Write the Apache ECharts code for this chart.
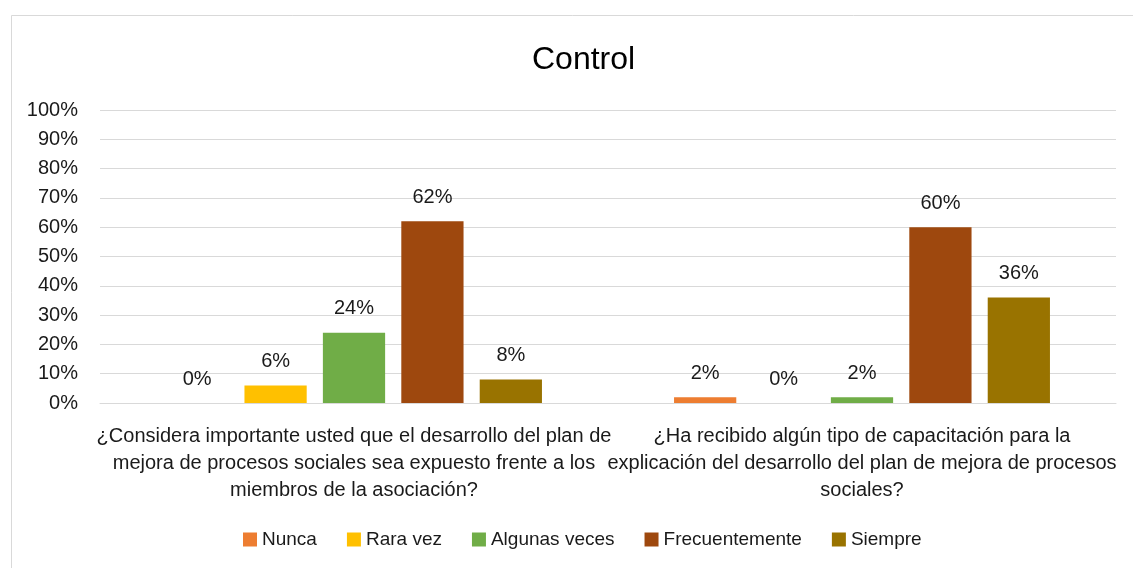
<!DOCTYPE html>
<html style="height: 100%">
	<head>
		<meta charset="utf-8">
	</head>
	<body style="height: 100%; margin: 0; background: #fff">
		<div id="container" style="width: 1133px; height: 568px"></div>
		<script src="https://cdn.jsdelivr.net/npm/echarts@6/dist/echarts.min.js" type="text/javascript" charset="utf-8"></script>
		<script type="text/javascript">
			// datos
			var categorias = [
				'¿Considera importante usted que el desarrollo del plan de\nmejora de procesos sociales sea expuesto frente a los\nmiembros de la asociación?',
				'¿Ha recibido algún tipo de capacitación para la\nexplicación del desarrollo del plan de mejora de procesos\nsociales?'
			];
			var nombres = ['Nunca', 'Rara vez', 'Algunas veces', 'Frecuentemente', 'Siempre'];
			var nunca = [0, 2];
			var raraVez = [6, 0];
			var algunasVeces = [24, 2];
			var frecuentemente = [62, 60];
			var siempre = [8, 36];
			var colores = ['#ED7D31', '#FFC000', '#70AD47', '#9E480E', '#997300'];
			var ticks = [0, 10, 20, 30, 40, 50, 60, 70, 80, 90, 100];

			var fuente = '"Liberation Sans Narrow", "Arial Narrow", "Liberation Sans", Arial, sans-serif';
			var valores = [nunca, raraVez, algunasVeces, frecuentemente, siempre];

			var series = [];
			for (var i = 0; i < nombres.length; i++) {
				series.push({
					name: nombres[i],
					type: 'bar',
					data: valores[i],
					barGap: '26%',
					barCategoryGap: '26%',
					itemStyle: { color: colores[i] },
					label: {
						show: true,
						position: 'top',
						distance: 14,
						formatter: '{c}%',
						color: '#1a1a1a',
						fontSize: 20,
						fontFamily: fuente
					}
				});
			}

			var myChart = echarts.init(document.getElementById('container'));
			var option = {
				backgroundColor: '#fff',
				animation: false,
				graphic: [{
					type: 'rect',
					shape: { x: 11.5, y: 15.5, width: 1140, height: 560 },
					style: { fill: 'none', stroke: '#d9d9d9', lineWidth: 1 },
					silent: true
				}],
				title: {
					text: 'Control',
					left: 527,
					top: 39,
					textStyle: {
						color: '#000',
						fontSize: 32,
						fontWeight: 'normal',
						fontFamily: fuente
					}
				},
				legend: {
					data: nombres,
					bottom: 14,
					left: 238,
					icon: 'rect',
					itemWidth: 14,
					itemHeight: 14,
					itemGap: 30,
					textStyle: {
						color: '#1a1a1a',
						fontSize: 19,
						fontFamily: fuente
					}
				},
				grid: {
					left: 100,
					right: 17,
					top: 110,
					bottom: 165
				},
				xAxis: {
					type: 'category',
					data: categorias,
					axisTick: { show: false },
					axisLine: { lineStyle: { color: '#d9d9d9', width: 1 } },
					axisLabel: {
						interval: 0,
						margin: 20,
						color: '#1a1a1a',
						fontSize: 20,
						lineHeight: 27,
						fontFamily: fuente
					}
				},
				yAxis: {
					type: 'value',
					min: ticks[0],
					max: ticks[ticks.length - 1],
					interval: 10,
					axisLine: { show: false },
					axisTick: { show: false },
					splitLine: { lineStyle: { color: '#d9d9d9', width: 1 } },
					axisLabel: {
						formatter: '{value}%',
						margin: 22,
						color: '#1a1a1a',
						fontSize: 20,
						fontFamily: fuente
					}
				},
				series: series
			};
			myChart.setOption(option);
		</script>
	</body>
</html>
